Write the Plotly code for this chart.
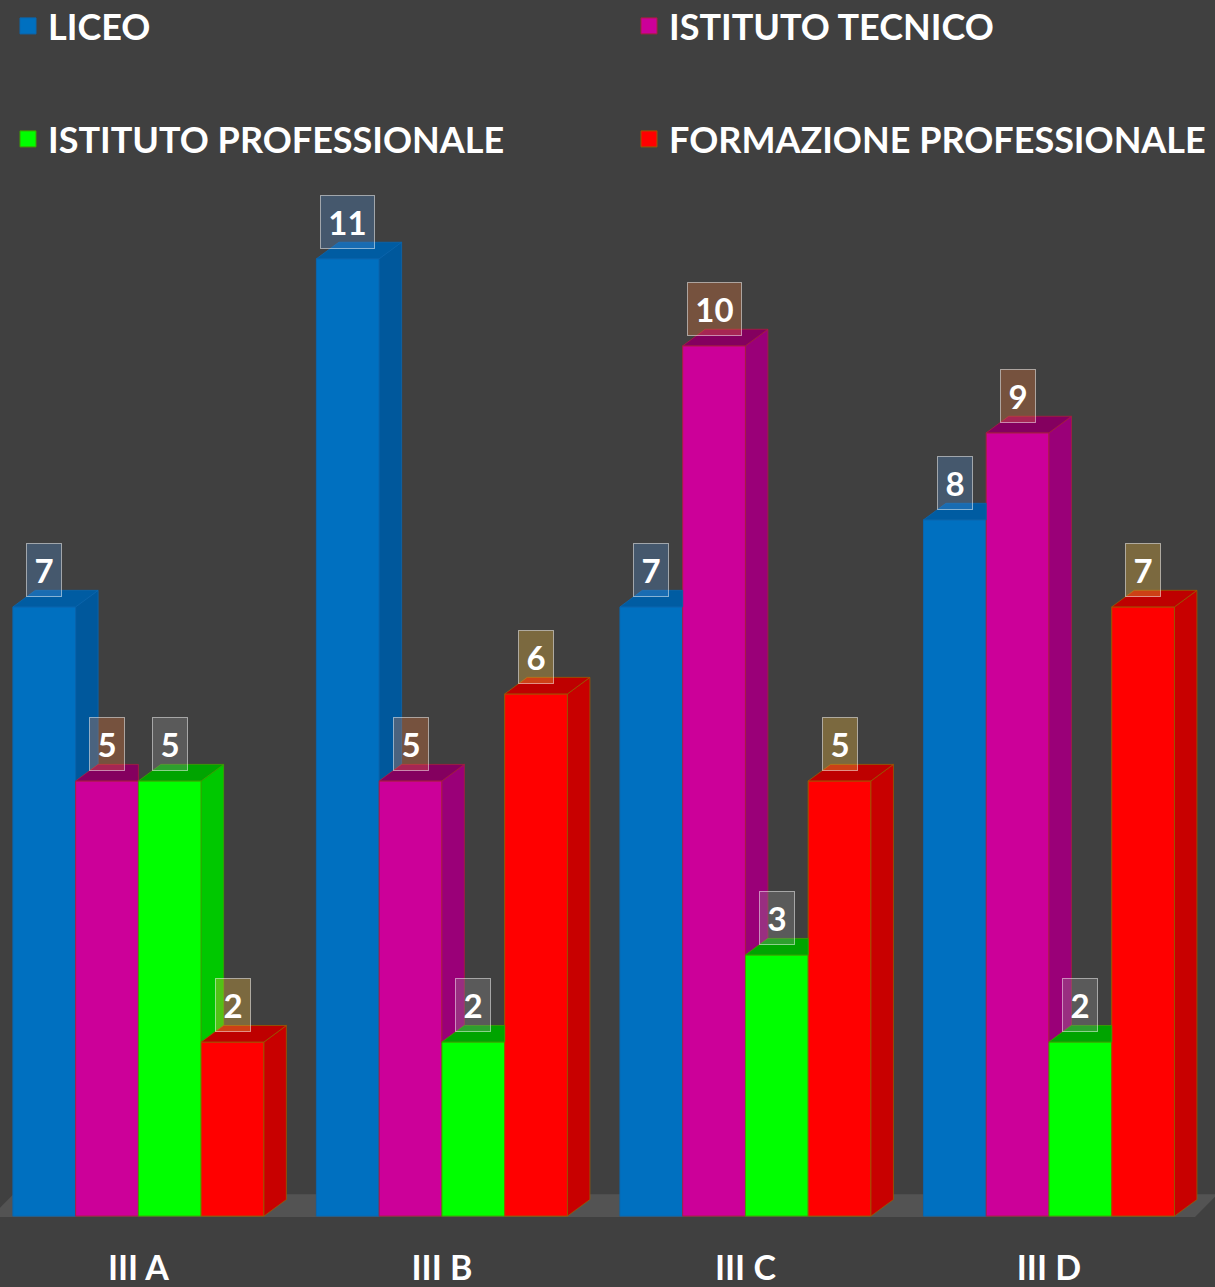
import plotly.graph_objects as go

classes = ['III A', 'III B', 'III C', 'III D']
series_names = ['LICEO', 'ISTITUTO TECNICO', 'ISTITUTO PROFESSIONALE', 'FORMAZIONE PROFESSIONALE']
liceo = [7, 11, 7, 8]
tecnico = [5, 5, 10, 9]
professionale = [5, 2, 3, 2]
formazione = [2, 6, 5, 7]
values = [liceo, tecnico, professionale, formazione]

front_colors = ['#0070C0', '#CC0099', '#00FF00', '#FF0000']
side_colors = ['#00589C', '#9A0078', '#00C800', '#C80000']
top_colors = ['#005CA2', '#84005F', '#00A400', '#BE0000']
edge_colors = ['#0A66AE', '#A8203E', '#3FA000', '#9A5A00']
label_fills = ['rgba(84,147,214,0.3)', 'rgba(244,127,61,0.3)',
               'rgba(151,151,151,0.3)', 'rgba(235,184,64,0.35)']

BG = '#404040'
FONT = 'Lato'
GROUP = 0.827          # share of a category taken by the 4 front faces
BAR_W = GROUP / 4
DX = 0.074             # depth of the fake 3d, x units
DY = 0.19              # depth of the fake 3d, y units
X_RANGE = [-0.456, 3.547]
Y_RANGE = [-0.16, 11.905]

idx = list(range(len(classes)))
fig = go.Figure()

# floor slab
fx0, fx1 = X_RANGE[0] - 0.03, 3.481
fy0, fy1 = -0.01, 0.25
fig.add_shape(
    type='path',
    path=f'M{fx0},{fy0} L{fx1},{fy0} L{fx1 + DX},{fy1} L{fx0 + DX},{fy1} Z',
    fillcolor='#535353', line_width=0, layer='below',
)

# front faces
for j, vals in enumerate(values):
    fig.add_trace(go.Bar(
        x=idx, y=vals, width=BAR_W, offset=-GROUP / 2 + j * BAR_W,
        marker=dict(color=front_colors[j], line=dict(color=edge_colors[j], width=1)),
        showlegend=False, hoverinfo='skip',
    ))

# side and top faces, cut where the next bar's front hides them
for j, vals in enumerate(values):
    sx, sy, tx, ty = [], [], [], []
    for i, v in enumerate(vals):
        left = i - GROUP / 2 + j * BAR_W
        right = left + BAR_W
        nxt = values[j + 1][i] if j < len(values) - 1 else 0
        if nxt < v:
            sx += [right, right + DX, right + DX, right, right, None]
            sy += [nxt, nxt + DY, v + DY, v, nxt, None]
            tx += [left, right, right + DX, left + DX, left, None]
            ty += [v, v, v + DY, v + DY, v, None]
        else:
            tx += [left, right, right, left + DX, left, None]
            ty += [v, v, v + DY, v + DY, v, None]
    for px, py, col in [(sx, sy, side_colors[j]), (tx, ty, top_colors[j])]:
        if not px:
            continue
        fig.add_trace(go.Scatter(
            x=px, y=py, mode='lines', fill='toself', fillcolor=col,
            line=dict(color=edge_colors[j], width=0.8),
            showlegend=False, hoverinfo='skip',
        ))

# legend entries, one legend each so they sit in a 2x2 grid
legend_ids = ['legend', 'legend2', 'legend3', 'legend4']
for j, name in enumerate(series_names):
    fig.add_trace(go.Scatter(
        x=[None], y=[None], mode='markers', name=name, legend=legend_ids[j],
        marker=dict(symbol='square', size=16, color=front_colors[j],
                    line=dict(color=edge_colors[j], width=1)),
    ))

# value labels
for j, vals in enumerate(values):
    for i, v in enumerate(vals):
        center = i - GROUP / 2 + (j + 0.5) * BAR_W
        txt = str(v)
        fig.add_annotation(
            x=center, y=v, text=f'<b>{txt}</b>', showarrow=False,
            xanchor='center', yanchor='bottom', yshift=10,
            width=24 if len(txt) == 1 else 43, height=42,
            bgcolor=label_fills[j], bordercolor='rgba(255,255,255,0.5)',
            borderwidth=1, borderpad=5,
            font=dict(family=FONT, size=33, color='white'),
        )

leg_font = dict(family=FONT, size=36, color='white', weight=700)
leg_common = dict(xanchor='left', yref='container', yanchor='middle',
                  bgcolor='rgba(0,0,0,0)', font=leg_font, itemsizing='trace')
row1, row2 = 1 - 26 / 1287, 1 - 139 / 1287
col1, col2 = 8 / 1215, 629 / 1215

fig.update_layout(
    width=1215, height=1287,
    paper_bgcolor=BG, plot_bgcolor=BG,
    margin=dict(l=0, r=0, t=180, b=52),
    barmode='overlay',
    legend=dict(x=col1, y=row1, **leg_common),
    legend2=dict(x=col2, y=row1, **leg_common),
    legend3=dict(x=col1, y=row2, **leg_common),
    legend4=dict(x=col2, y=row2, **leg_common),
    xaxis=dict(
        range=X_RANGE, tickvals=idx, ticktext=classes, showgrid=False,
        zeroline=False, showline=False, ticks='', ticklabelstandoff=15,
        tickfont=dict(family=FONT, size=34, color='white', weight=700),
        fixedrange=True,
    ),
    yaxis=dict(range=Y_RANGE, visible=False, showgrid=False, zeroline=False,
               fixedrange=True),
)

fig.write_html('out.html', config={'displayModeBar': False},
               post_script="document.body.style.margin='0';")
